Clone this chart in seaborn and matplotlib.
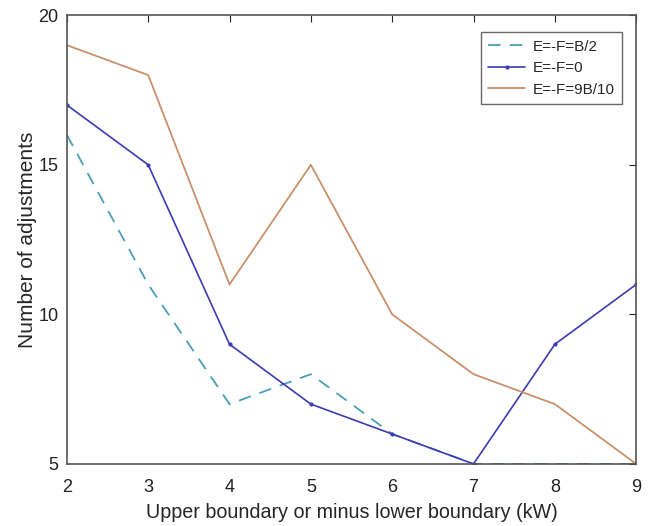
import matplotlib
matplotlib.use("Agg")
import matplotlib.pyplot as plt
import seaborn as sns
import pandas as pd

x = [2, 3, 4, 5, 6, 7, 8, 9]
half_b = [16, 11, 7, 8, 6, 5, 5, 5]
zero = [17, 15, 9, 7, 6, 5, 9, 11]
nine_tenth = [19, 18, 11, 15, 10, 8, 7, 5]
labels = ["E=-F=B/2", "E=-F=0", "E=-F=9B/10"]

sns.set_style("white")
plt.rcParams['font.family'] = ['Liberation Sans', 'DejaVu Sans']

fig = plt.figure(figsize=(6.62, 5.26), dpi=100)
ax = fig.add_axes([0.101, 0.118, 0.86, 0.853])

df1 = pd.DataFrame({"x": x, "y": half_b})
df2 = pd.DataFrame({"x": x, "y": zero})
df3 = pd.DataFrame({"x": x, "y": nine_tenth})

sns.lineplot(data=df1, x="x", y="y", ax=ax, color="#4a9fb8", linestyle=(0, (7, 5)),
             linewidth=1.3, label=labels[0])
sns.lineplot(data=df2, x="x", y="y", ax=ax, color="#3b3bb3", linewidth=1.2,
             marker="o", markersize=3, markeredgewidth=0, label=labels[1])
sns.lineplot(data=df3, x="x", y="y", ax=ax, color="#c9906c", linewidth=1.3,
             label=labels[2])

ax.set_xlim(2, 9)
ax.set_ylim(5, 20)
ax.set_xticks(x)
ax.set_yticks([5, 10, 15, 20])
ax.set_xlabel("Upper boundary or minus lower boundary (kW)", fontsize=14.2, labelpad=5)
ax.set_ylabel("Number of adjustments", fontsize=15, labelpad=1)
ax.tick_params(direction="in", length=5, width=0.8, labelsize=13, top=True, right=True,
               colors="#222222")
ax.tick_params(axis="x", pad=11)
ax.tick_params(axis="y", pad=6)
for s in ax.spines.values():
    s.set_color("#555555")
    s.set_linewidth(1.2)
    s.set_visible(True)

leg = ax.legend(loc="upper right", fontsize=11, frameon=True, fancybox=False,
                edgecolor="#444444", handlelength=2.4, handletextpad=0.5,
                borderpad=0.5, bbox_to_anchor=(0.989, 0.98))
leg.get_frame().set_linewidth(1.0)

fig.savefig("out.png", dpi=100)
